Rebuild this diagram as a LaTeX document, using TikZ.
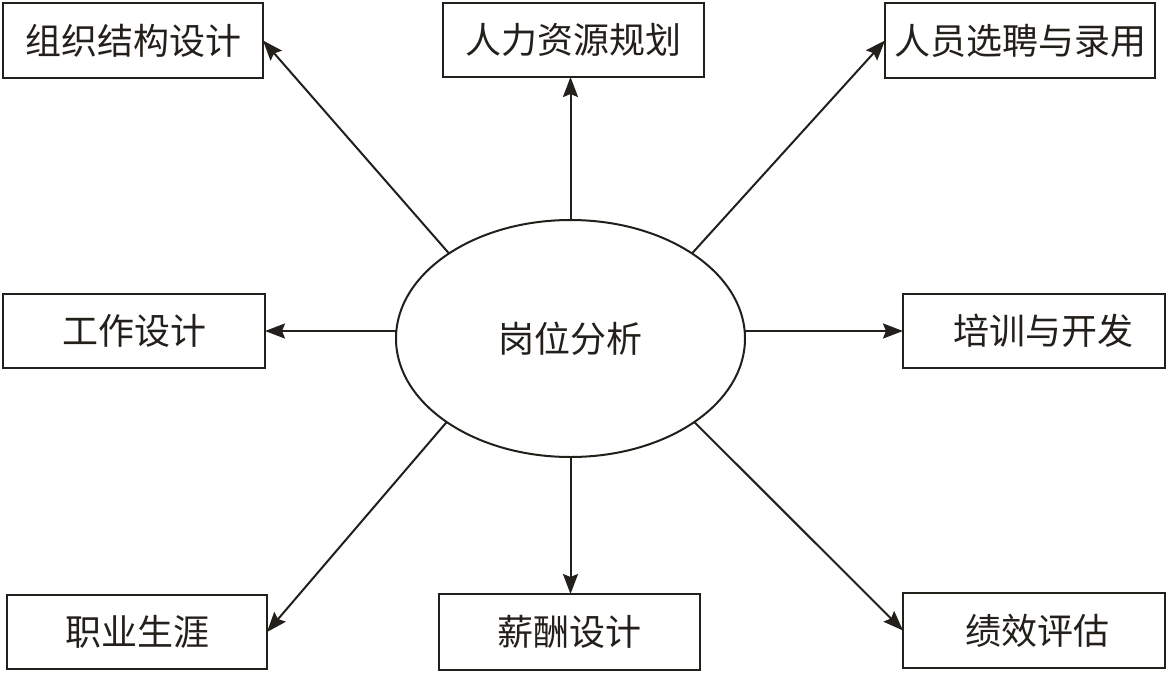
\documentclass[tikz,border=0pt]{standalone}
\usepackage{fontspec}
\newfontfamily\cjk{Noto Sans CJK SC}
\usetikzlibrary{arrows.meta, shapes.geometric}
\definecolor{ink}{HTML}{231F1A}

\begin{document}
\begin{tikzpicture}[x=1pt, y=-1pt,
    every node/.style={font=\cjk\fontsize{36}{40}\selectfont, text=ink},
    task/.style={draw=ink, line width=2pt, inner sep=0pt, outer sep=0pt, fill=white},
    hub/.style={ellipse, draw=ink, line width=2pt, inner sep=0pt, outer sep=0pt,
      minimum width=349pt, minimum height=237pt},
    arr/.style={draw=ink, line width=2pt, -{Stealth[length=20pt, width=15pt, inset=3pt]}}]
  \useasboundingbox[fill=white] (0,0) rectangle (1167,673);
  % central ellipse
  \node[hub] (ana) at (570.5,338.5) {岗位分析};
  % top row
  \node[task, minimum width=260pt, minimum height=75pt] (org) at (133,40.5) {组织结构设计};
  \node[task, minimum width=261pt, minimum height=74pt] (hr) at (573.5,40) {人力资源规划};
  \node[task, minimum width=270pt, minimum height=75pt] (rec) at (1020,40.5) {人员选聘与录用};
  % middle row
  \node[task, minimum width=262pt, minimum height=74pt] (wd) at (134,331) {工作设计};
  \node[task, minimum width=262pt, minimum height=74pt] (tr) at (1034,331) {\hspace{18pt}培训与开发};
  % bottom row
  \node[task, minimum width=260pt, minimum height=74pt] (car) at (137,632) {职业生涯};
  \node[task, minimum width=261pt, minimum height=76pt] (pay) at (569.5,632) {薪酬设计};
  \node[task, minimum width=262pt, minimum height=75pt] (perf) at (1034,630.5) {\hspace{6pt}绩效评估};
  % connectors
  \draw[arr] (ana.145) -- (org.east);
  \draw[arr] (ana.north) -- (ana.north |- hr.south);
  \draw[arr] (ana.35) -- (rec.west);
  \draw[arr] (ana.west |- wd.east) -- (wd.east);
  \draw[arr] (ana.east |- tr.west) -- (tr.west);
  \draw[arr] (ana.214) -- (car.east);
  \draw[arr] (ana.south) -- (ana.south |- pay.north);
  \draw[arr] (ana.326) -- (perf.west);
\end{tikzpicture}
\end{document}
